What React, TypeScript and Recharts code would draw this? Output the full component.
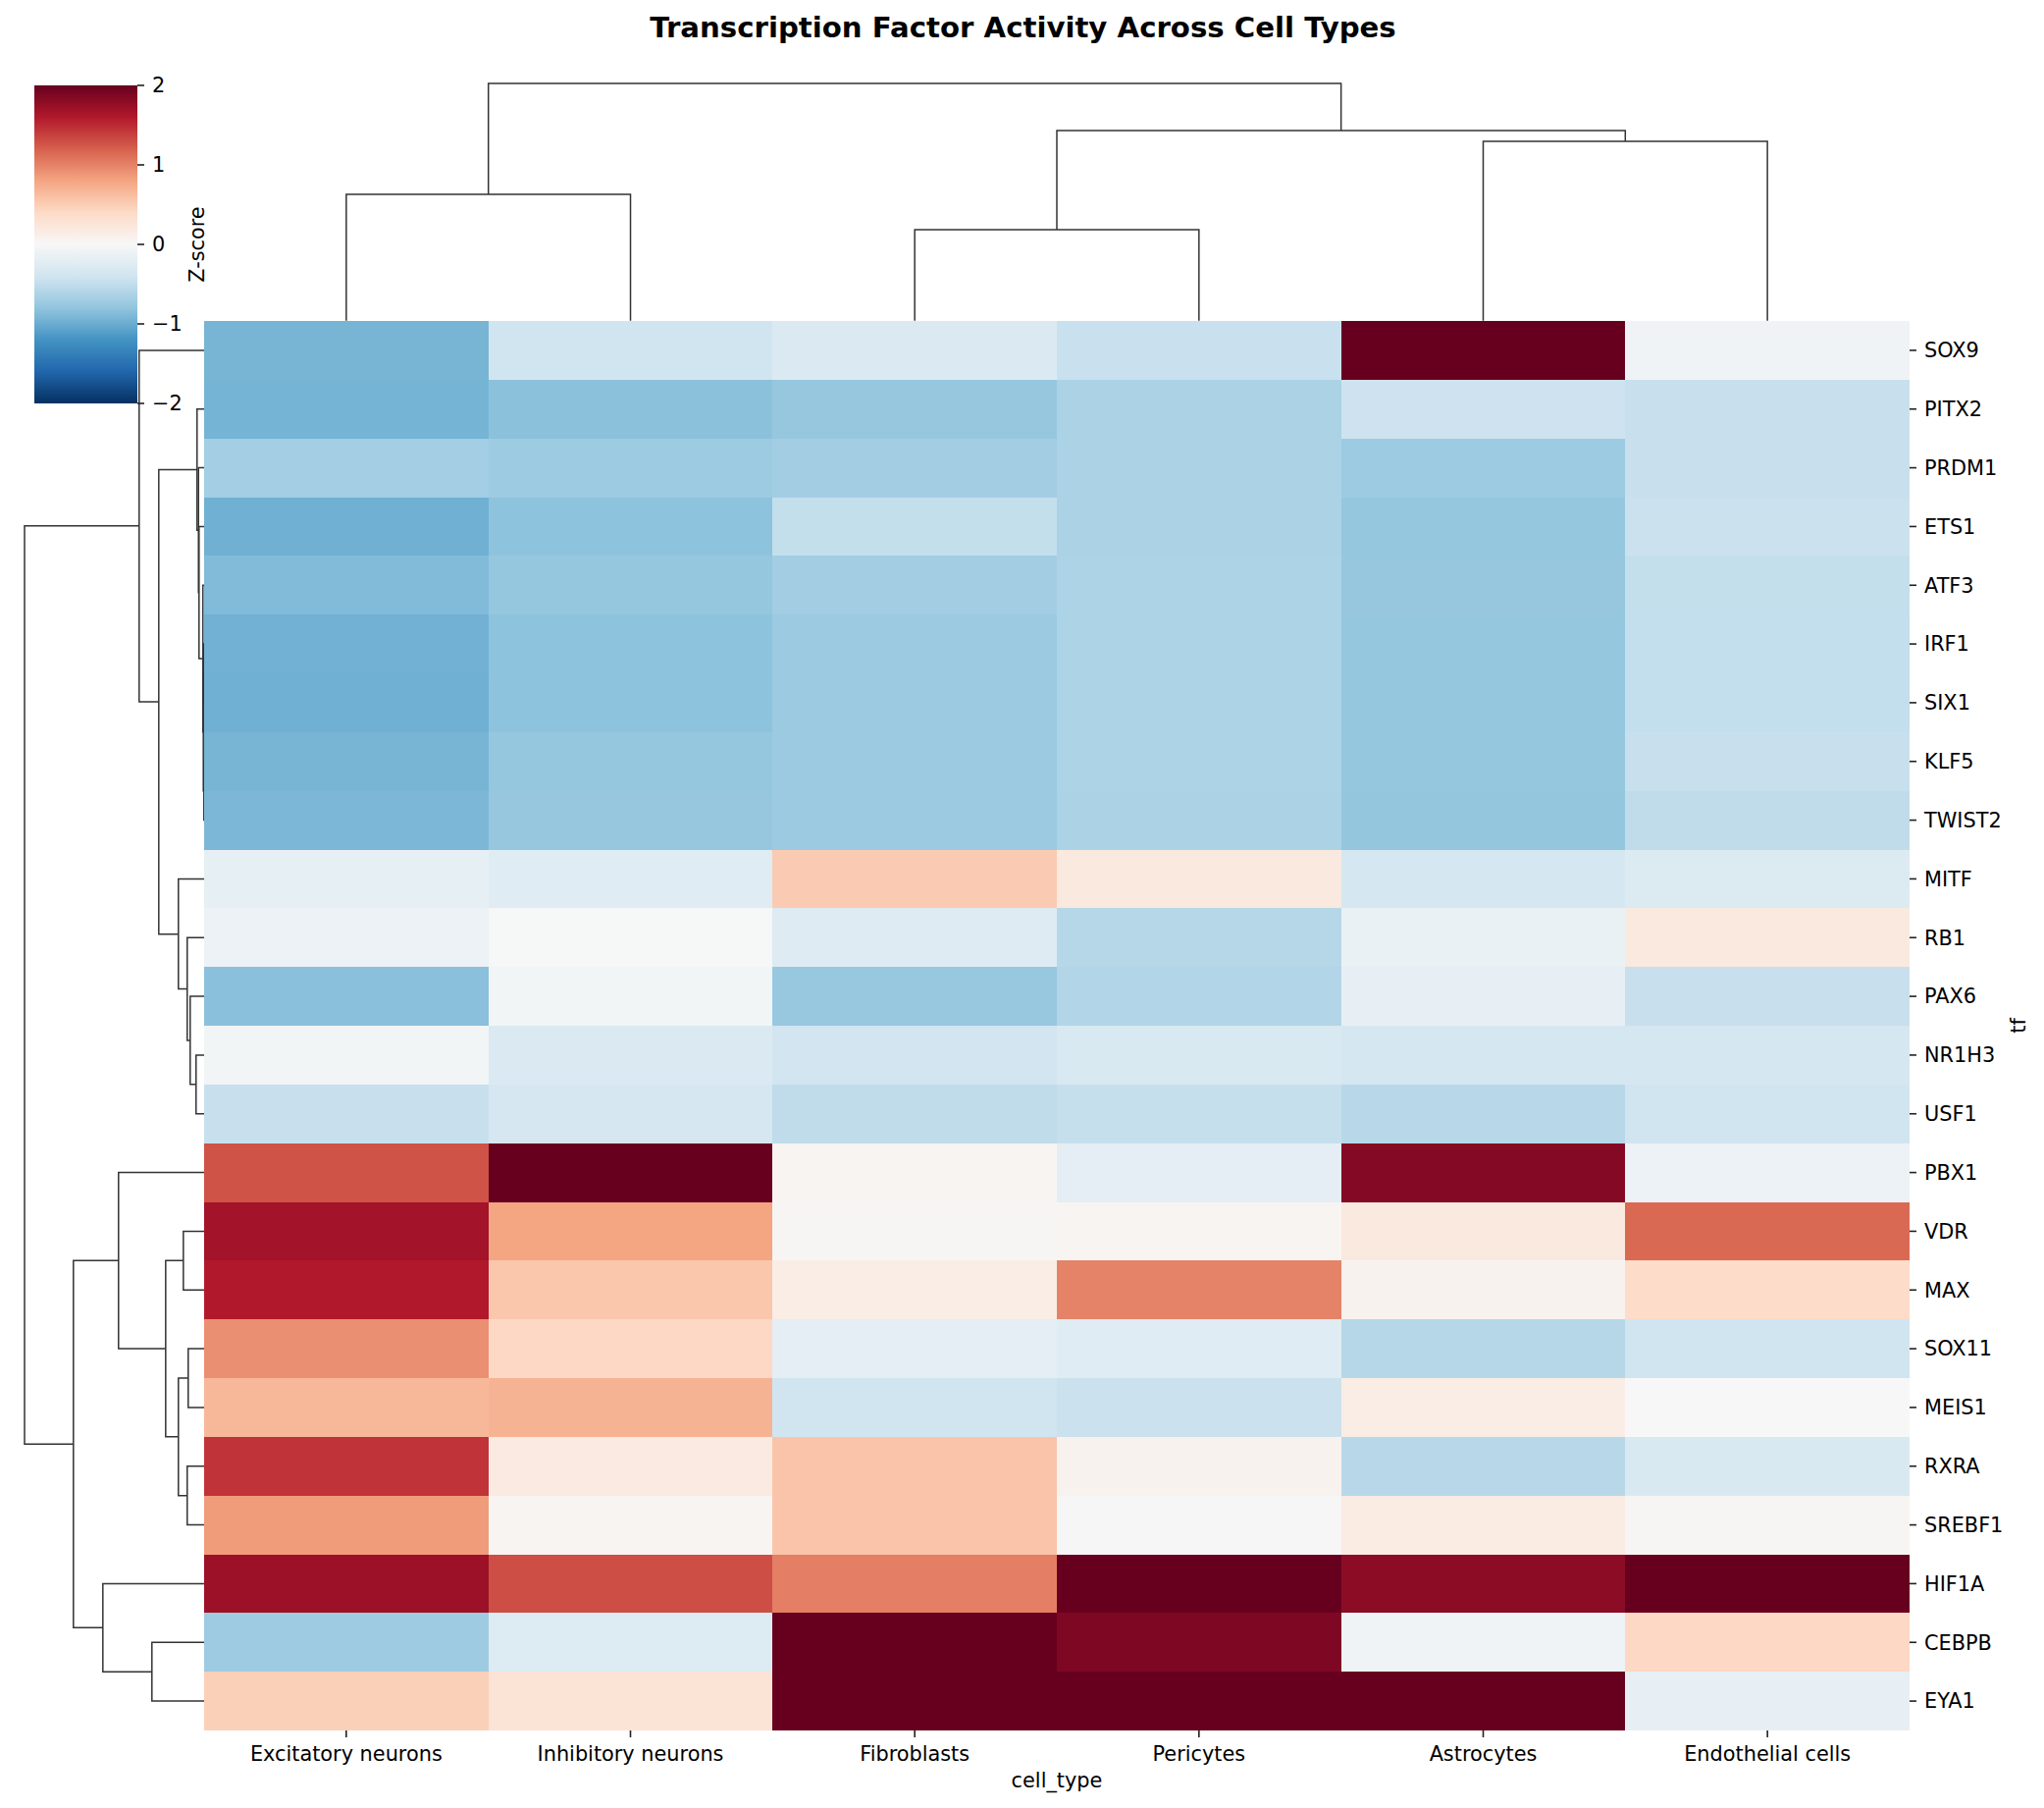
import { Bar, BarChart, Cell, ComposedChart, Line, XAxis, YAxis } from "recharts";

const CELL_TYPES = ["Excitatory neurons", "Inhibitory neurons", "Fibroblasts", "Pericytes", "Astrocytes", "Endothelial cells"];

const TFS = [
  "SOX9", "PITX2", "PRDM1", "ETS1", "ATF3", "IRF1", "SIX1", "KLF5", "TWIST2", "MITF", "RB1", "PAX6",
  "NR1H3", "USF1", "PBX1", "VDR", "MAX", "SOX11", "MEIS1", "RXRA", "SREBF1", "HIF1A", "CEBPB", "EYA1",
];

// z-scores, one array per column, same order as TFS
const excitatory = [-0.93, -0.94, -0.69, -0.97, -0.88, -0.96, -0.97, -0.93, -0.91, -0.18, -0.12, -0.84, -0.05, -0.46, 1.27, 1.68, 1.6, 0.93, 0.66, 1.45, 0.85, 1.72, -0.72, 0.48];
const inhibitory = [-0.4, -0.83, -0.73, -0.82, -0.78, -0.82, -0.82, -0.78, -0.77, -0.25, -0.01, -0.05, -0.3, -0.35, 2, 0.8, 0.55, 0.42, 0.7, 0.18, 0.05, 1.3, -0.27, 0.28];
const fibroblasts = [-0.3, -0.77, -0.7, -0.48, -0.7, -0.74, -0.74, -0.74, -0.74, 0.52, -0.26, -0.76, -0.39, -0.51, 0.05, 0.03, 0.15, -0.2, -0.4, 0.57, 0.57, 1.02, 2, 2];
const pericytes = [-0.45, -0.64, -0.64, -0.64, -0.63, -0.63, -0.63, -0.63, -0.64, 0.2, -0.57, -0.6, -0.32, -0.47, -0.2, 0.05, 1.0, -0.25, -0.44, 0.07, 0.01, 2, 1.88, 2];
const astrocytes = [2, -0.42, -0.73, -0.78, -0.77, -0.78, -0.78, -0.78, -0.79, -0.36, -0.14, -0.17, -0.36, -0.56, 1.85, 0.2, 0.07, -0.57, 0.15, -0.56, 0.17, 1.8, -0.08, 2];
const endothelial = [-0.08, -0.46, -0.46, -0.44, -0.48, -0.49, -0.49, -0.46, -0.51, -0.28, 0.2, -0.46, -0.36, -0.4, -0.12, 1.15, 0.38, -0.4, 0, -0.32, 0.03, 2, 0.42, -0.17];
const COLUMNS = [excitatory, inhibitory, fibroblasts, pericytes, astrocytes, endothelial];

const RDBU_R = ["#053061", "#2166ac", "#4393c3", "#92c5de", "#d1e5f0", "#f7f7f7", "#fddbc7", "#f4a582", "#d6604d", "#b2182b", "#67001f"];

// linkage: [position a, position b, merge height, height of child a, height of child b]
const COLUMN_LINKS = [
  [0.5, 1.5, 0.5325, 0, 0],
  [2.5, 3.5, 0.3835, 0, 0],
  [4.5, 5.5, 0.756, 0, 0],
  [3, 5, 0.801, 0.3835, 0.756],
  [1, 4, 1, 0.5325, 0.801],
];

const ROW_LINKS = [
  [22.5, 23.5, 0.2926, 0, 0],
  [21.5, 23, 0.565, 0, 0.2926],
  [15.5, 16.5, 0.118, 0, 0],
  [17.5, 18.5, 0.091, 0, 0],
  [19.5, 20.5, 0.0965, 0, 0],
  [18, 20, 0.1455, 0.091, 0.0965],
  [16, 19, 0.2163, 0.118, 0.1455],
  [14.5, 17.5, 0.478, 0, 0.2163],
  [16, 22.25, 0.7286, 0.478, 0.565],
  [12.5, 13.5, 0.0474, 0, 0],
  [11.5, 13, 0.08, 0, 0.0474],
  [10.5, 12.25, 0.0965, 0, 0.08],
  [9.5, 11.375, 0.1455, 0, 0.0965],
  [5.5, 6.5, 0.0055, 0, 0],
  [7.5, 8.5, 0.0038, 0, 0],
  [6, 8, 0.0071, 0.0055, 0.0038],
  [4.5, 7, 0.0093, 0, 0.0071],
  [3.5, 5.75, 0.031, 0, 0.0093],
  [2.5, 4.625, 0.034, 0, 0.031],
  [1.5, 3.5625, 0.042, 0, 0.034],
  [2.53, 10.44, 0.2545, 0.042, 0.1455],
  [0.5, 6.485, 0.3635, 0, 0.2545],
  [3.49, 19.125, 1, 0.3635, 0.7286],
];

const FONT = "'DejaVu Sans', sans-serif";
const FONT_SIZE = 20.83;
const TREE_COLOR = "#333333";

const hexToRgb = (hex: string) => [1, 3, 5].map((i) => parseInt(hex.slice(i, i + 2), 16));

// same as the colormap with vmin -2, vmax 2
const zColor = (z: number) => {
  const t = (Math.min(2, Math.max(-2, z)) + 2) / 4;
  const pos = t * (RDBU_R.length - 1);
  const i = Math.min(Math.floor(pos), RDBU_R.length - 2);
  const a = hexToRgb(RDBU_R[i]);
  const b = hexToRgb(RDBU_R[i + 1]);
  const c = a.map((v, k) => Math.round(v + (b[k] - v) * (pos - i)));
  return `rgb(${c[0]},${c[1]},${c[2]})`;
};

const heatRows = TFS.map((tf) => {
  const row: Record<string, string | number> = { tf };
  CELL_TYPES.forEach((c) => (row[c] = 1));
  return row;
});

const tickStyle = { fontSize: FONT_SIZE, fill: "#000", fontFamily: FONT };
const tickLine = { stroke: "#222", strokeWidth: 1.6 };
const minus = (v: number) => String(v).replace("-", "\u2212");

const linkPath = ([a, b, h, ca, cb]: number[], horizontal: boolean) => {
  const pts = [[a, ca], [a, h], [b, h], [b, cb]];
  return pts.map(([p, d]) => (horizontal ? { x: d, y: p } : { x: p, y: d }));
};

// axis title turned by 90 degrees, centred along the axis box
const sideLabel = (value: string, fromRight: number) => (props: any) => {
  const { x, y, width, height } = props.viewBox;
  const cx = x + width - fromRight;
  const cy = y + height / 2;
  return (
    <text
      x={cx}
      y={cy}
      transform={`rotate(-90 ${cx} ${cy})`}
      textAnchor="middle"
      dominantBaseline="central"
      style={tickStyle}
    >
      {value}
    </text>
  );
};

function Tree({ links, horizontal, style, width, height }: { links: number[][]; horizontal: boolean; style: React.CSSProperties; width: number; height: number }) {
  return (
    <div style={{ position: "absolute", ...style }}>
      <ComposedChart width={width} height={height} margin={{ top: 4, right: 4, bottom: 4, left: 4 }}>
        {horizontal ? (
          <XAxis type="number" dataKey="x" domain={[0, 1]} reversed hide />
        ) : (
          <XAxis type="number" dataKey="x" domain={[0, 6]} hide />
        )}
        {horizontal ? (
          <YAxis type="number" dataKey="y" domain={[0, 24]} reversed hide />
        ) : (
          <YAxis type="number" dataKey="y" domain={[0, 1]} hide />
        )}
        {links.map((link, i) => (
          <Line
            key={i}
            data={linkPath(link, horizontal)}
            dataKey="y"
            stroke={TREE_COLOR}
            strokeWidth={1.5}
            dot={false}
            activeDot={false}
            type="linear"
            isAnimationActive={false}
          />
        ))}
      </ComposedChart>
    </div>
  );
}

export default function App() {
  return (
    <div style={{ position: "absolute", left: 0, top: 0, width: 2083, height: 1842, background: "#fff", overflow: "hidden" }}>
      <div
        style={{
          position: "absolute",
          top: 11,
          left: 1,
          width: 2083,
          textAlign: "center",
          fontFamily: FONT,
          fontWeight: "bold",
          fontSize: 29.2,
          color: "#000",
          lineHeight: "34px",
        }}
      >
        Transcription Factor Activity Across Cell Types
      </div>

      <Tree links={COLUMN_LINKS} horizontal={false} style={{ left: 204, top: 81.3 }} width={1746} height={249.7} />
      <Tree links={ROW_LINKS} horizontal style={{ left: 20.5, top: 323 }} width={191.5} height={1444} />

      <div style={{ position: "absolute", left: 0, top: 300 }}>
        <BarChart
          width={2083}
          height={1542}
          layout="vertical"
          data={heatRows}
          barCategoryGap={0}
          barGap={0}
          margin={{ top: 27, right: 0, bottom: 0, left: 208 }}
        >
          <XAxis
            type="number"
            domain={[0, 6]}
            ticks={[0.5, 1.5, 2.5, 3.5, 4.5, 5.5]}
            tickFormatter={(v: number) => CELL_TYPES[Math.floor(v)]}
            interval={0}
            height={79}
            axisLine={false}
            tickLine={tickLine}
            tickSize={7}
            tickMargin={9}
            tick={tickStyle}
            label={{ value: "cell_type", position: "insideBottom", offset: 21, style: tickStyle }}
          />
          <YAxis
            type="category"
            dataKey="tf"
            orientation="right"
            width={137}
            interval={0}
            axisLine={false}
            tickLine={tickLine}
            tickSize={7}
            tickMargin={8}
            tick={tickStyle}
            label={{ content: sideLabel("tf", 26) }}
          />
          {CELL_TYPES.map((name, c) => (
            <Bar key={name} dataKey={name} stackId="heat" isAnimationActive={false} shapeRendering="crispEdges">
              {COLUMNS[c].map((z, r) => (
                <Cell key={r} fill={zColor(z)} />
              ))}
            </Bar>
          ))}
        </BarChart>
      </div>

      <div style={{ position: "absolute", left: 35, top: 67 }}>
        <BarChart
          width={185}
          height={364}
          data={[{ name: "Z-score", range: [-2, 2] }]}
          barCategoryGap={0}
          margin={{ top: 20, right: 0, bottom: 20, left: 0 }}
        >
          <defs>
            <linearGradient id="rdbu" x1="0" y1="1" x2="0" y2="0">
              {RDBU_R.map((c, i) => (
                <stop key={c} offset={i / (RDBU_R.length - 1)} stopColor={c} />
              ))}
            </linearGradient>
          </defs>
          <XAxis dataKey="name" hide />
          <YAxis
            type="number"
            orientation="right"
            domain={[-2, 2]}
            ticks={[-2, -1, 0, 1, 2]}
            tickFormatter={minus}
            interval={0}
            width={80}
            axisLine={false}
            tickLine={tickLine}
            tickSize={7}
            tickMargin={8}
            tick={tickStyle}
            label={{ content: sideLabel("Z-score", 19) }}
          />
          <Bar dataKey="range" fill="url(#rdbu)" isAnimationActive={false} />
        </BarChart>
      </div>
    </div>
  );
}
